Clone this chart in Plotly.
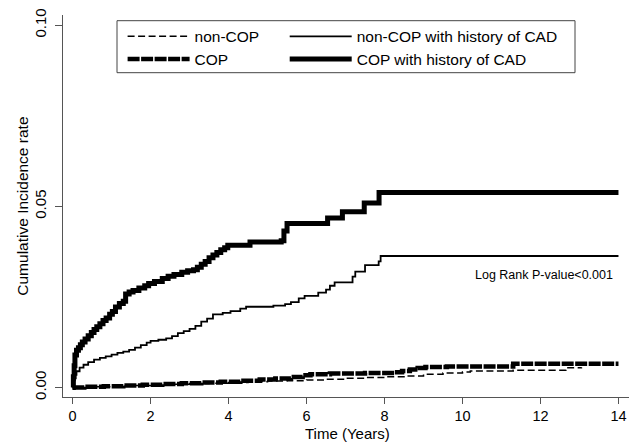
import plotly.graph_objects as go

# ---- data ----
noncop_t = [0, 0.5, 1.0, 1.5, 2.0, 2.5, 3.0, 3.5, 4.0, 4.5, 5.0, 5.5, 6.0, 6.5, 7.0, 7.5, 8.0, 8.5,
            9.0, 9.5, 10.0, 10.2, 11.3, 12.65, 13.05]
noncop_v = [0, 0.0002, 0.0004, 0.0006, 0.0008, 0.0009, 0.0011, 0.0012, 0.0014, 0.0016, 0.0018, 0.0019,
            0.0021, 0.0023, 0.0026, 0.0028, 0.0030, 0.0032, 0.0037, 0.0040, 0.0043, 0.0046, 0.0048,
            0.0055, 0.0056]

cop_t = [0, 0.3, 0.8, 1.3, 1.8, 2.3, 2.8, 3.3, 3.8, 4.3, 4.8, 5.2, 5.6, 5.9, 6.1, 6.6, 7.5, 8.25,
         8.45, 8.65, 8.85, 9.05, 9.6, 11.3, 14.0]
cop_v = [0, 0.0002, 0.0004, 0.0006, 0.0008, 0.0010, 0.0012, 0.0014, 0.0016, 0.0019, 0.0022, 0.0025,
         0.0029, 0.0034, 0.0037, 0.0039, 0.0040, 0.0042, 0.0046, 0.0050, 0.0054, 0.0057, 0.0058,
         0.0066, 0.0066]

noncop_cad_t = [0, 0.03, 0.06, 0.1, 0.18, 0.28, 0.4, 0.55, 0.7, 0.85, 1.0, 1.15, 1.3, 1.45, 1.6, 1.75,
                1.9, 2.0, 2.2, 2.4, 2.55, 2.7, 2.85, 3.0, 3.15, 3.3, 3.45, 3.6, 3.85, 4.05, 4.3, 4.45,
                5.15, 5.45, 5.6, 5.8, 5.95, 6.3, 6.5, 6.6, 6.72, 7.18, 7.25, 7.5, 7.85, 7.9, 14.0]
noncop_cad_v = [0, 0.0020, 0.0035, 0.0045, 0.0055, 0.0063, 0.0070, 0.0077, 0.0082, 0.0086, 0.0091,
                0.0096, 0.0099, 0.0104, 0.0110, 0.0117, 0.0124, 0.0129, 0.0132, 0.0136, 0.0142,
                0.0150, 0.0156, 0.0162, 0.0170, 0.0182, 0.0190, 0.0202, 0.0206, 0.0211, 0.0218,
                0.0223, 0.0226, 0.0230, 0.0236, 0.0246, 0.0253, 0.0262, 0.0270, 0.0281, 0.0290,
                0.0306, 0.0320, 0.0338, 0.0348, 0.0363, 0.0363]

cop_cad_t = [0, 0.02, 0.04, 0.06, 0.1, 0.15, 0.2, 0.25, 0.32, 0.4, 0.48, 0.55, 0.62, 0.7, 0.78, 0.86,
             0.95, 1.02, 1.1, 1.2, 1.3, 1.36, 1.45, 1.55, 1.7, 1.85, 1.95, 2.1, 2.3, 2.45, 2.6, 2.8,
             2.95, 3.1, 3.2, 3.3, 3.4, 3.5, 3.6, 3.7, 3.8, 3.9, 3.98, 4.55, 5.35, 5.42, 5.5, 6.54,
             6.92, 7.48, 7.86, 14.0]
cop_cad_v = [0, 0.0030, 0.0060, 0.0090, 0.0103, 0.0110, 0.0118, 0.0126, 0.0134, 0.0143, 0.0152,
             0.0160, 0.0168, 0.0176, 0.0185, 0.0192, 0.0202, 0.0210, 0.0222, 0.0232, 0.0238,
             0.0258, 0.0264, 0.0268, 0.0275, 0.0281, 0.0287, 0.0293, 0.0301, 0.0307, 0.0312,
             0.0318, 0.0322, 0.0325, 0.0332, 0.0340, 0.0348, 0.0358, 0.0366, 0.0373, 0.0380,
             0.0386, 0.0393, 0.0402, 0.0405, 0.0432, 0.0453, 0.0468, 0.0485, 0.0509, 0.0538,
             0.0538]

x_ticks = [0, 2, 4, 6, 8, 10, 12, 14]
y_ticks = [0.0, 0.05, 0.10]
y_tick_labels = ["0.00", "0.05", "0.10"]

FONT = "Liberation Sans, Arial, sans-serif"
AXC = "#555555"

series = [
    ("non-COP", noncop_t, noncop_v, dict(color="black", width=1.5, dash="7px,3.5px"), "legend"),
    ("COP", cop_t, cop_v, dict(color="black", width=4.5, dash="12px,1.5px"), "legend2"),
    ("non-COP with history of CAD", noncop_cad_t, noncop_cad_v, dict(color="black", width=1.8), "legend3"),
    ("COP with history of CAD", cop_cad_t, cop_cad_v, dict(color="black", width=5), "legend4"),
]

fig = go.Figure()
for name, t, v, line, leg in series:
    fig.add_trace(go.Scatter(x=t, y=v, mode="lines", line_shape="hv", name=name, line=line,
                             legend=leg))

L, T, W, H = 63, 15, 566, 382
def px(xp):
    return (xp - L) / W
def py(yp):
    return (T + H - yp) / H

leg_common = dict(font=dict(family=FONT, size=15.5, color="black"), bgcolor="rgba(0,0,0,0)",
                  borderwidth=0, itemwidth=62, orientation="v", xanchor="left",
                  yanchor="middle")
col1, col2 = 122.6, 284.7
row1, row2 = 36.7, 59.3

fig.update_layout(
    width=629, height=442,
    margin=dict(l=L, r=629 - L - W, t=T, b=442 - T - H),
    paper_bgcolor="white", plot_bgcolor="white",
    font=dict(family=FONT, size=15, color="black"),
    showlegend=True,
    legend=dict(x=px(col1), y=py(row1), **leg_common),
    legend2=dict(x=px(col1), y=py(row2), **leg_common),
    legend3=dict(x=px(col2), y=py(row1), **leg_common),
    legend4=dict(x=px(col2), y=py(row2), **leg_common),
    xaxis=dict(range=[-0.246, 14.27], tickvals=x_ticks, showline=True, linecolor=AXC, linewidth=1,
               ticks="outside", ticklen=6, tickcolor=AXC, showgrid=False, zeroline=False,
               tickfont=dict(size=14.5)),
    yaxis=dict(range=[-0.0026, 0.1028], tickvals=y_ticks, ticktext=y_tick_labels, tickangle=-90,
               showline=True, linecolor=AXC, linewidth=1, ticks="outside", ticklen=7,
               tickcolor=AXC, showgrid=False, zeroline=False, tickfont=dict(size=15),
               ticklabelstandoff=3),
    shapes=[dict(type="rect", xref="paper", yref="paper", x0=px(117), x1=px(575),
                 y0=py(72.7), y1=py(20.7), line=dict(color="#444444", width=1),
                 fillcolor="white", layer="below")],
    annotations=[
        dict(text="Time (Years)", xref="paper", yref="paper", x=px(347), y=py(433),
             xanchor="center", yanchor="middle", showarrow=False, font=dict(size=15)),
        dict(text="Cumulative Incidence rate", xref="paper", yref="paper", x=px(23), y=py(206.7),
             xanchor="center", yanchor="middle", textangle=-90, showarrow=False,
             font=dict(size=15.5)),
        dict(text="Log Rank P-value<0.001", xref="x", yref="y", x=13.92, y=0.031,
             xanchor="right", yanchor="middle", showarrow=False, font=dict(size=12.5)),
    ],
)

fig.write_html("out.html", config={"displayModeBar": False, "staticPlot": True},
               post_script="document.body.style.margin='0';")
